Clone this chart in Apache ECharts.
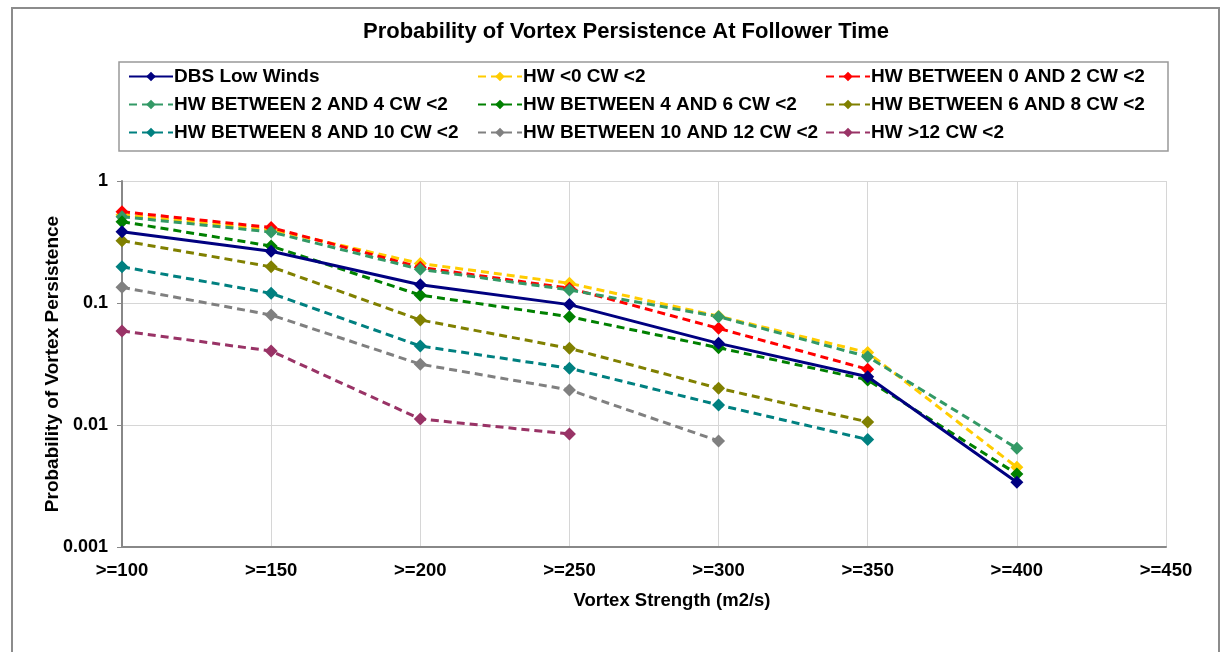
<!DOCTYPE html>
<html>
<head>
<meta charset="utf-8">
<script src="https://cdn.jsdelivr.net/npm/echarts@6/dist/echarts.min.js"></script>
<style>
html,body{margin:0;padding:0;background:#fff;}
#chart{width:1225px;height:652px;}
</style>
</head>
<body>
<div id="chart"></div>
<script>
const categories = ['>=100','>=150','>=200','>=250','>=300','>=350','>=400','>=450'];
const yTickLabels = ['0.001','0.01','0.1','1'];

const dbsLowWinds   = [0.384, 0.266, 0.141, 0.097, 0.0467, 0.0249, 0.0034, null];
const hwLt0         = [0.53, 0.40, 0.211, 0.145, 0.078, 0.0392, 0.0045, null];
const hw0to2        = [0.56, 0.415, 0.196, 0.132, 0.062, 0.0286, null, null];
const hw2to4        = [0.51, 0.382, 0.189, 0.128, 0.0772, 0.0363, 0.00644, null];
const hw4to6        = [0.464, 0.293, 0.116, 0.0772, 0.043, 0.0234, 0.00397, null];
const hw6to8        = [0.324, 0.198, 0.0726, 0.0425, 0.020, 0.0106, null, null];
const hw8to10       = [0.198, 0.120, 0.0444, 0.0292, 0.0146, 0.0076, null, null];
const hw10to12      = [0.1345, 0.0797, 0.0315, 0.0194, 0.0074, null, null, null];
const hwGt12        = [0.059, 0.0404, 0.0112, 0.00844, null, null, null, null];

const seriesNames = [
  'DBS Low Winds','HW <0 CW <2','HW BETWEEN 0 AND 2 CW <2',
  'HW BETWEEN 2 AND 4 CW <2','HW BETWEEN 4 AND 6 CW <2','HW BETWEEN 6 AND 8 CW <2',
  'HW BETWEEN 8 AND 10 CW <2','HW BETWEEN 10 AND 12 CW <2','HW >12 CW <2'
];
const seriesData = [dbsLowWinds, hwLt0, hw0to2, hw2to4, hw4to6, hw6to8, hw8to10, hw10to12, hwGt12];
const seriesColors = ['#000080','#FFCC00','#FF0000','#339966','#008000','#808000','#008080','#808080','#993366'];

const FONT = 'Liberation Sans, Arial, sans-serif';

const series = seriesNames.map((name, i) => ({
  name: name,
  type: 'line',
  data: seriesData[i],
  symbol: 'diamond',
  symbolSize: 13,
  connectNulls: false,
  itemStyle: { color: seriesColors[i] },
  lineStyle: { color: seriesColors[i], width: 3, type: i === 0 ? 'solid' : [8, 5] },
  emphasis: { disabled: true },
  z: i === 0 ? 3 : 2
}));

function legendCol(names, left) {
  return {
    data: names,
    orient: 'vertical',
    left: left,
    top: 66,
    itemWidth: 44,
    itemHeight: 12,
    itemGap: 7,
    padding: 0,
    selectedMode: false,
    textStyle: { fontFamily: FONT, fontWeight: 'bold', fontSize: 19, color: '#000', lineHeight: 21, padding: [0,0,0,-4] }
  };
}

const chart = echarts.init(document.getElementById('chart'), null, { renderer: 'canvas' });
chart.setOption({
  animation: false,
  backgroundColor: '#fff',
  title: {
    text: 'Probability of Vortex Persistence At Follower Time',
    left: 363,
    top: 21,
    padding: 0,
    textStyle: { fontFamily: FONT, fontWeight: 'bold', fontSize: 22, color: '#000' }
  },
  legend: [
    legendCol([seriesNames[0], seriesNames[3], seriesNames[6]], 128),
    legendCol([seriesNames[1], seriesNames[4], seriesNames[7]], 477),
    legendCol([seriesNames[2], seriesNames[5], seriesNames[8]], 825)
  ],
  graphic: [
    { type: 'rect', shape: { x: 12, y: 8, width: 1207, height: 700 }, style: { fill: 'none', stroke: '#8c8c8c', lineWidth: 2 }, silent: true },
    { type: 'rect', shape: { x: 119, y: 62, width: 1049, height: 89 }, style: { fill: 'none', stroke: '#999999', lineWidth: 1.5 }, silent: true }
  ],
  grid: { left: 122, right: 59, top: 181, bottom: 105, containLabel: false },
  xAxis: {
    type: 'category',
    data: categories,
    boundaryGap: false,
    name: 'Vortex Strength (m2/s)',
    nameLocation: 'middle',
    nameGap: 44,
    nameMoveOverlap: false,
    nameTextStyle: { fontFamily: FONT, fontWeight: 'bold', fontSize: 18.5, color: '#000', padding: [0, 0, 0, 56] },
    axisLine: { lineStyle: { color: '#888', width: 2 } },
    axisTick: { show: false },
    axisLabel: { fontFamily: FONT, fontWeight: 'bold', fontSize: 18.5, color: '#000', margin: 14 },
    splitLine: { show: true, lineStyle: { color: '#d6d6d6', width: 1 } }
  },
  yAxis: {
    type: 'log',
    logBase: 10,
    min: 0.001,
    max: 1,
    name: 'Probability of Vortex Persistence',
    nameLocation: 'middle',
    nameGap: 60,
    nameMoveOverlap: false,
    nameTextStyle: { fontFamily: FONT, fontWeight: 'bold', fontSize: 19, color: '#000' },
    axisLine: { show: true, lineStyle: { color: '#888', width: 2 } },
    axisTick: { show: true, length: 5, lineStyle: { color: '#888' } },
    axisLabel: {
      fontFamily: FONT, fontWeight: 'bold', fontSize: 18, color: '#000', margin: 14,
      formatter: function (v) {
        const idx = Math.round(Math.log10(v)) + 3;
        return yTickLabels[idx] !== undefined ? yTickLabels[idx] : '';
      }
    },
    splitLine: { show: true, lineStyle: { color: '#d6d6d6', width: 1 } }
  },
  series: series
});
</script>
</body>
</html>
